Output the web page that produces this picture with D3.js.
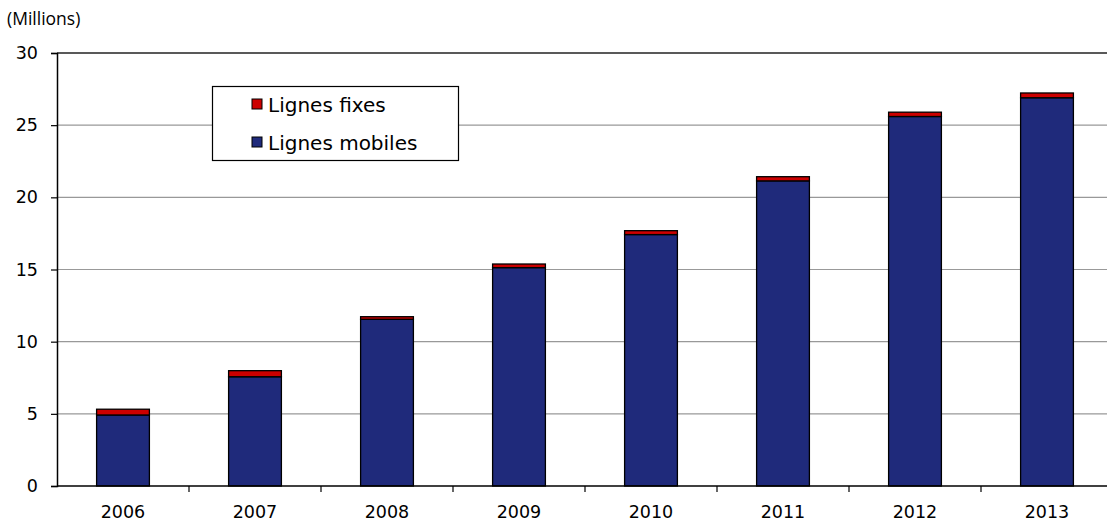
<!DOCTYPE html>
<html>
<head>
<meta charset="utf-8">
<script src="https://cdn.jsdelivr.net/npm/d3@7"></script>
<style>
  html, body { margin: 0; padding: 0; background: #fff; }
  svg { display: block; }
</style>
</head>
<body>
<svg id="chart" width="1107" height="523"></svg>
<script>
// Years on the category axis
const years = ["2006", "2007", "2008", "2009", "2010", "2011", "2012", "2013"];
// Mobile lines (millions)
const mobile = [4.92, 7.57, 11.55, 15.13, 17.42, 21.14, 25.6, 26.9];
// Fixed lines (millions)
const fixed = [0.40, 0.42, 0.18, 0.25, 0.27, 0.29, 0.30, 0.33];
// Value axis ticks
const yTicks = [0, 5, 10, 15, 20, 25, 30];
const seriesNames = ["Lignes mobiles", "Lignes fixes"];

const svg = d3.select("#chart");
const plotLeft = 57, plotRight = 1113, plotTop = 53, plotBottom = 486;
const labelFont = "DejaVu Sans, Verdana, sans-serif";

const x = d3.scaleBand().domain(years).range([plotLeft, plotRight]).paddingInner(0.6).paddingOuter(0.3);
const xCat = d3.scaleBand().domain(years).range([plotLeft, plotRight]);
const y = d3.scaleLinear().domain([0, 30]).range([plotBottom, plotTop]);

const colors = { "Lignes mobiles": "#1f2a7b", "Lignes fixes": "#cc0000" };

// Gridlines
svg.append("g").selectAll("line").data(yTicks.filter(t => t > 0)).join("line")
  .attr("x1", plotLeft).attr("x2", plotRight)
  .attr("y1", d => y(d)).attr("y2", d => y(d))
  .attr("stroke", d => d === 30 ? "#222" : "#999")
  .attr("stroke-width", d => d === 30 ? 1.5 : 1.2);

// Stacked bars
const rows = years.map((yr, i) => ({ year: yr, "Lignes mobiles": mobile[i], "Lignes fixes": fixed[i] }));
const stack = d3.stack().keys(seriesNames)(rows);

svg.append("g").selectAll("g").data(stack).join("g")
  .attr("fill", d => colors[d.key])
  .selectAll("rect").data(d => d).join("rect")
  .attr("x", d => x(d.data.year))
  .attr("width", x.bandwidth())
  .attr("y", d => y(d[1]))
  .attr("height", d => y(d[0]) - y(d[1]))
  .attr("stroke", "#000")
  .attr("stroke-width", 1.3);

// Y axis
const yAxis = svg.append("g").attr("transform", `translate(${plotLeft},0)`)
  .call(d3.axisLeft(y).tickValues(yTicks).tickSize(6).tickPadding(13).tickFormat(d3.format("d")));
yAxis.select(".domain").attr("stroke", "#000").attr("stroke-width", 1.5);
yAxis.selectAll(".tick line").attr("stroke", "#000").attr("stroke-width", 1.2);
yAxis.selectAll("text").attr("font-family", labelFont).attr("font-size", 17.5).attr("fill", "#000");

// X axis: ticks at category boundaries
const xg = svg.append("g");
xg.append("line").attr("x1", plotLeft).attr("x2", plotRight).attr("y1", plotBottom).attr("y2", plotBottom)
  .attr("stroke", "#000").attr("stroke-width", 1.5);
xg.selectAll("line.tk").data(years.slice(1)).join("line").attr("class", "tk")
  .attr("x1", d => xCat(d)).attr("x2", d => xCat(d))
  .attr("y1", plotBottom).attr("y2", plotBottom + 6)
  .attr("stroke", "#000").attr("stroke-width", 1.2);
xg.selectAll("text").data(years).join("text")
  .attr("x", d => xCat(d) + xCat.bandwidth() / 2)
  .attr("y", 518)
  .attr("text-anchor", "middle")
  .attr("font-family", labelFont).attr("font-size", 17.5)
  .text(d => d);

// Unit label
svg.append("text").attr("x", 7).attr("y", 25)
  .attr("font-family", "Open Sans, Liberation Sans, sans-serif").attr("font-size", 17.5)
  .text("(Millions)");

// Legend
const lg = svg.append("g");
lg.append("rect").attr("x", 212.5).attr("y", 86.5).attr("width", 246).attr("height", 74)
  .attr("fill", "#fff").attr("stroke", "#000").attr("stroke-width", 1.2);
const legendItems = ["Lignes fixes", "Lignes mobiles"];
lg.selectAll("g").data(legendItems).join("g")
  .attr("transform", (d, i) => `translate(252,${99 + i * 38})`)
  .each(function(d) {
    const g = d3.select(this);
    g.append("rect").attr("width", 10).attr("height", 10)
      .attr("fill", colors[d]).attr("stroke", "#000").attr("stroke-width", 1);
    g.append("text").attr("x", 16).attr("y", 13)
      .attr("font-family", labelFont).attr("font-size", 20)
      .text(d);
  });
</script>
</body>
</html>
